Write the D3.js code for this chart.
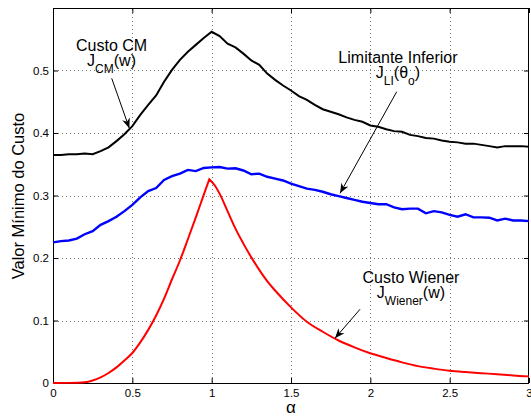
<!DOCTYPE html>
<html>
<head>
<meta charset="utf-8">
<script src="https://cdn.jsdelivr.net/npm/d3@7"></script>
<style>
  body { margin: 0; background: #fff; }
  svg { display: block; font-family: "Liberation Sans", Arial, sans-serif; }
  .tick text { font-size: 11.5px; fill: #000; }
</style>
</head>
<body>
<div id="chart-container"></div>
<script>
// alpha values where the curves were sampled
var alpha = [0, 0.05, 0.1, 0.15, 0.2, 0.25, 0.3, 0.35, 0.4, 0.45, 0.5, 0.55, 0.6, 0.65, 0.7, 0.75, 0.8, 0.85, 0.9, 0.95,
    1.0, 1.05, 1.1, 1.15, 1.2, 1.25, 1.3, 1.35, 1.4, 1.45, 1.5, 1.55, 1.6, 1.65, 1.7, 1.75, 1.8, 1.85, 1.9, 1.95,
    2.0, 2.05, 2.1, 2.15, 2.2, 2.25, 2.3, 2.35, 2.4, 2.45, 2.5, 2.55, 2.6, 2.65, 2.7, 2.75, 2.8, 2.85, 2.9, 2.95, 3.0];

// Custo CM  J_CM(w)
var custoCM = [0.365, 0.365, 0.366, 0.366, 0.367, 0.366, 0.371, 0.377, 0.387, 0.398, 0.411, 0.429, 0.445, 0.460, 0.482, 0.501, 0.517, 0.530, 0.541, 0.552,
    0.562, 0.555, 0.543, 0.537, 0.527, 0.516, 0.509, 0.495, 0.485, 0.476, 0.468, 0.459, 0.453, 0.445, 0.438, 0.434, 0.430, 0.425, 0.421, 0.418,
    0.412, 0.410, 0.406, 0.403, 0.402, 0.397, 0.395, 0.392, 0.391, 0.388, 0.386, 0.385, 0.383, 0.383, 0.381, 0.379, 0.377, 0.379, 0.379, 0.379, 0.378];

// Limitante Inferior  J_LI(theta_o)
var limitanteLI = [0.225, 0.227, 0.228, 0.231, 0.238, 0.243, 0.253, 0.259, 0.266, 0.275, 0.285, 0.297, 0.307, 0.312, 0.325, 0.331, 0.335, 0.341, 0.339, 0.344,
    0.345, 0.3455, 0.343, 0.3435, 0.340, 0.334, 0.335, 0.330, 0.327, 0.324, 0.319, 0.315, 0.311, 0.309, 0.306, 0.302, 0.299, 0.296, 0.293, 0.290,
    0.288, 0.286, 0.286, 0.281, 0.278, 0.279, 0.279, 0.2715, 0.275, 0.273, 0.269, 0.266, 0.270, 0.265, 0.265, 0.2645, 0.260, 0.263, 0.260, 0.260, 0.259];

// Custo Wiener  J_Wiener(w), own sampling (sharp peak near 1)
var alphaWiener = [0, 0.1, 0.2, 0.25, 0.3, 0.35, 0.4, 0.45, 0.5, 0.55, 0.6, 0.65, 0.7, 0.75, 0.8, 0.85, 0.9, 0.95, 0.985,
    1.02, 1.05, 1.1, 1.15, 1.2, 1.25, 1.3, 1.35, 1.4, 1.5, 1.6, 1.7, 1.8, 1.9, 2.0, 2.1, 2.2, 2.3, 2.4, 2.5, 2.6, 2.7, 2.8, 2.9, 3.0];
var custoWiener = [0, 0.0002, 0.0012, 0.004, 0.009, 0.016, 0.025, 0.036, 0.048, 0.065, 0.085, 0.108, 0.135, 0.166, 0.196, 0.230, 0.265, 0.301, 0.326,
    0.316, 0.303, 0.275, 0.247, 0.223, 0.201, 0.181, 0.163, 0.148, 0.121, 0.098, 0.082, 0.068, 0.057, 0.0475, 0.040, 0.033, 0.027, 0.023, 0.0197, 0.0175, 0.0157, 0.014, 0.012, 0.0106];

var xTicks = [0, 0.5, 1, 1.5, 2, 2.5, 3];
var yTicks = [0, 0.1, 0.2, 0.3, 0.4, 0.5];

var margins = { top: 8, bottom: 34, left: 53, right: 2 };
var dimensions = {
    width: 531 - margins.left - margins.right,
    height: 417 - margins.top - margins.bottom
};

var x = d3.scaleLinear().domain([0, 3]).range([0, dimensions.width]);
var y = d3.scaleLinear().domain([0, 0.6]).range([dimensions.height, 0]);

var svg = d3.select('#chart-container')
    .append('svg')
        .attr('width', 531)
        .attr('height', 417);

var defs = svg.append('defs');
defs.append('marker')
    .attr('id', 'head')
    .attr('viewBox', '0 0 10 10')
    .attr('refX', 10).attr('refY', 5)
    .attr('markerWidth', 10).attr('markerHeight', 10)
    .attr('markerUnits', 'userSpaceOnUse')
    .attr('orient', 'auto')
    .append('path')
        .attr('d', 'M0,1 L10,5 L0,9 L3,5 Z')
        .attr('fill', '#000');

var chart = svg.append('g')
    .attr('transform', 'translate(' + margins.left + ',' + margins.top + ')');

// axes box first
chart.append('rect')
    .attr('x', 0.5).attr('y', 0.5)
    .attr('width', dimensions.width - 1).attr('height', dimensions.height)
    .style('fill', 'none').style('stroke', '#000').style('stroke-width', 1);

// dotted grid, built as a path of tiny dashes
var gridPath = d3.path();
xTicks.slice(1, -1).forEach(function(d) {
    var gx = Math.round(x(d)) + 0.5;
    gridPath.moveTo(gx, 1);
    gridPath.lineTo(gx, dimensions.height);
});
yTicks.slice(1).forEach(function(d) {
    var gy = Math.round(y(d)) + 0.5;
    gridPath.moveTo(1, gy);
    gridPath.lineTo(dimensions.width - 1, gy);
});
chart.append('path')
    .attr('d', gridPath.toString())
    .style('fill', 'none')
    .style('stroke', '#777')
    .style('stroke-width', 1)
    .style('stroke-dasharray', '1,3');

// axes, ticks inside like matlab
var fmt = function(d) { return d3.format('')(d); };
chart.append('g')
    .attr('transform', 'translate(0,' + dimensions.height + ')')
    .call(d3.axisBottom(x).tickValues(xTicks).tickFormat(fmt).tickSizeInner(-5).tickSizeOuter(0).tickPadding(6));
chart.append('g')
    .call(d3.axisTop(x).tickValues(xTicks).tickFormat('').tickSizeInner(-5).tickSizeOuter(0));
chart.append('g')
    .call(d3.axisLeft(y).tickValues(yTicks).tickFormat(fmt).tickSizeInner(-5).tickSizeOuter(0).tickPadding(4));
chart.append('g')
    .attr('transform', 'translate(' + dimensions.width + ',0)')
    .call(d3.axisRight(y).tickValues(yTicks).tickFormat('').tickSizeInner(-5).tickSizeOuter(0));
chart.selectAll('.domain').remove();
chart.selectAll('.tick line').style('stroke', '#000').style('stroke-width', 1);

// curves
var line = d3.line()
    .x(function(d) { return x(d[0]); })
    .y(function(d) { return y(d[1]); });

chart.append('path')
    .datum(d3.zip(alpha, custoCM))
    .attr('d', line).style('fill', 'none').style('stroke', '#000').style('stroke-width', 2);

chart.append('path')
    .datum(d3.zip(alpha, limitanteLI))
    .attr('d', line).style('fill', 'none').style('stroke', '#0000ff').style('stroke-width', 2.4);

var wiener = d3.zip(alphaWiener, custoWiener);
var peak = d3.maxIndex(custoWiener);
var smooth = d3.line().curve(d3.curveMonotoneX)
    .x(function(d) { return x(d[0]); })
    .y(function(d) { return y(d[1]); });
chart.append('path')
    .attr('d', smooth(wiener.slice(0, peak + 1)) + smooth(wiener.slice(peak)).replace('M', 'L'))
    .style('fill', 'none').style('stroke', '#ff0000').style('stroke-width', 2);

// annotations (positions in data units)
function label(a, v, title, sub, tail, tail2) {
    chart.append('text')
        .attr('x', x(a)).attr('y', y(v))
        .attr('text-anchor', 'middle').attr('font-size', 16)
        .text(title);
    var t = chart.append('text')
        .attr('x', x(a)).attr('y', y(v) + 15)
        .attr('text-anchor', 'middle').attr('font-size', 16);
    t.append('tspan').text('J');
    t.append('tspan').attr('dy', 7).attr('font-size', 12).text(sub);
    t.append('tspan').attr('dy', -7).text(tail);
    if (tail2) {
        t.append('tspan').attr('dy', 7).attr('font-size', 12).text(tail2[0]);
        t.append('tspan').attr('dy', -7).text(tail2[1]);
    }
}
function arrow(a0, v0, a1, v1) {
    chart.append('line')
        .attr('x1', x(a0)).attr('y1', y(v0))
        .attr('x2', x(a1)).attr('y2', y(v1))
        .style('stroke', '#000').style('stroke-width', 1)
        .attr('marker-end', 'url(#head)');
}

label(0.369, 0.532, 'Custo CM', 'CM', '(w)');
arrow(0.37, 0.4875, 0.481, 0.4075);

label(2.174, 0.5115, 'Limitante Inferior', 'LI', '(\u03b8', ['o', ')']);
arrow(2.166, 0.466, 1.809, 0.3035);

label(2.256, 0.1595, 'Custo Wiener', 'Wiener', '(w)');
arrow(1.935, 0.118, 1.777, 0.0715);

// axis titles
svg.append('text')
    .attr('x', margins.left + x(1.5)).attr('y', 413)
    .attr('text-anchor', 'middle').attr('font-size', 17)
    .text('\u03b1');

svg.append('text')
    .attr('transform', 'translate(24,196) rotate(-90)')
    .attr('text-anchor', 'middle').attr('font-size', 16.5)
    .text('Valor Mínimo do Custo');
</script>
</body>
</html>
